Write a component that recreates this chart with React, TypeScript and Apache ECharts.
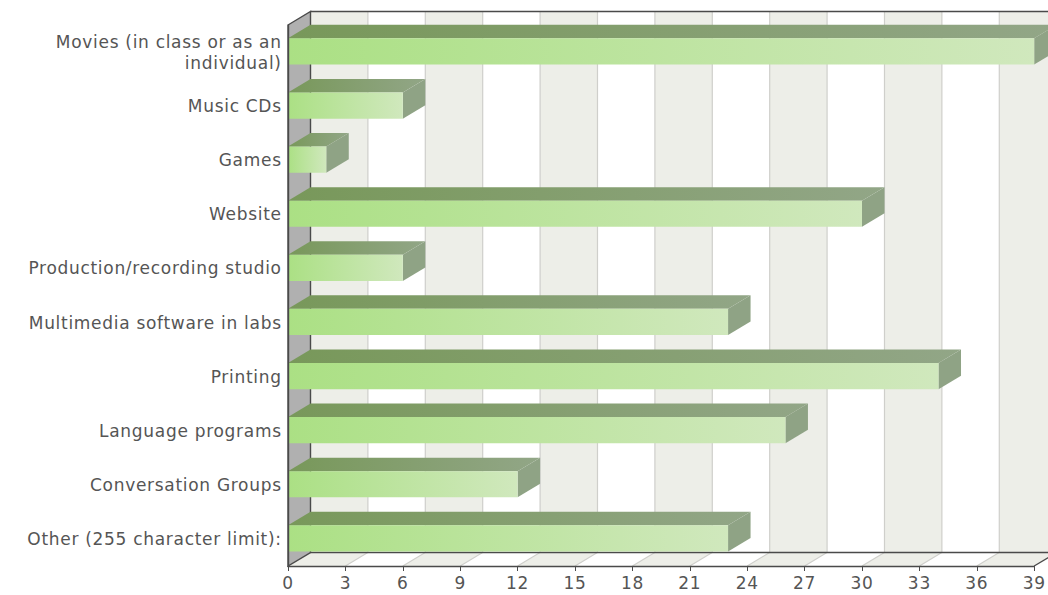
import React, { useEffect, useRef } from "react";
import * as echarts from "echarts";

const categories = [
  "Movies (in class or as an\nindividual)",
  "Music CDs",
  "Games",
  "Website",
  "Production/recording studio",
  "Multimedia software in labs",
  "Printing",
  "Language programs",
  "Conversation Groups",
  "Other (255 character limit):",
];
const values = [39, 6, 2, 30, 6, 23, 34, 26, 12, 23];
const stripeStarts = [0, 6, 12, 18, 24, 30, 36];
const gridTicks = [3, 6, 9, 12, 15, 18, 21, 24, 27, 30, 33, 36];
const AXIS_MAX = 39;
const AXIS_STEP = 3;

const DX = 22.5;
const DY = 13.5;
const BAR_RATIO = 0.485;
const BAR_SHIFT = -0.6;

const DARK = "#4a4a4a";
const TEXT = "#555555";
const STRIPE = "#edeee8";
const GRIDLINE = "#cfcfcb";
const WALL = "#b0b0b0";

function App() {
  const ref = useRef<HTMLDivElement>(null);
  useEffect(() => {
    const chart = echarts.init(ref.current!, undefined, { renderer: "svg" });

    const stripeItem = (params: any, api: any) => {
      const cs = params.coordSys;
      const top = cs.y;
      const bottom = cs.y + cs.height;
      const x0 = api.coord([api.value(0), 0])[0];
      const x1 = api.coord([api.value(0) + AXIS_STEP, 0])[0];
      return {
        type: "group",
        children: [
          { type: "polygon", shape: { points: [[x0 + DX, top - DY], [x1 + DX, top - DY], [x1 + DX, bottom - DY], [x0 + DX, bottom - DY]] }, style: { fill: STRIPE } },
          { type: "polygon", shape: { points: [[x0, bottom], [x1, bottom], [x1 + DX, bottom - DY], [x0 + DX, bottom - DY]] }, style: { fill: STRIPE } },
        ],
      };
    };

    const gridItem = (params: any, api: any) => {
      const cs = params.coordSys;
      const top = cs.y;
      const bottom = cs.y + cs.height;
      const x = api.coord([api.value(0), 0])[0];
      return {
        type: "polyline",
        shape: { points: [[x, bottom], [x + DX, bottom - DY], [x + DX, top - DY]] },
        style: { fill: "none", stroke: GRIDLINE, lineWidth: 1.2 },
      };
    };

    const frameItem = (params: any, api: any) => {
      const cs = params.coordSys;
      const top = cs.y;
      const bottom = cs.y + cs.height;
      const x0 = cs.x;
      const x1 = cs.x + cs.width;
      const line = { fill: "none", stroke: DARK, lineWidth: 1.4 };
      return {
        type: "group",
        children: [
          { type: "polygon", shape: { points: [[x0, top], [x0 + DX, top - DY], [x0 + DX, bottom - DY], [x0, bottom]] }, style: { fill: WALL, stroke: DARK, lineWidth: 1.4 } },
          { type: "polyline", shape: { points: [[x0 + DX, top - DY], [x1 + DX + 20, top - DY]] }, style: line },
          { type: "polyline", shape: { points: [[x0 + DX, bottom - DY], [x1 + DX, bottom - DY]] }, style: line },
          { type: "polyline", shape: { points: [[x1, bottom], [x1 + DX, bottom - DY]] }, style: line },
        ],
      };
    };

    const barItem = (params: any, api: any) => {
      const v = api.value(0);
      const c = api.coord([v, api.value(1)]);
      const x0 = api.coord([0, api.value(1)])[0];
      const x1 = c[0];
      const h = api.size([0, 1])[1] * BAR_RATIO;
      const y0 = c[1] - h / 2 + BAR_SHIFT;
      const y1 = y0 + h;
      return {
        type: "group",
        children: [
          {
            type: "polygon",
            shape: { points: [[x0, y0], [x1, y0], [x1 + DX, y0 - DY], [x0 + DX, y0 - DY]] },
            style: { fill: new echarts.graphic.LinearGradient(0, 0, 1, 0, [{ offset: 0, color: "#78985a" }, { offset: 1, color: "#92a687" }]) },
          },
          {
            type: "polygon",
            shape: { points: [[x1, y0], [x1 + DX, y0 - DY], [x1 + DX, y1 - DY], [x1, y1]] },
            style: { fill: "#8fa385" },
          },
          {
            type: "rect",
            shape: { x: x0, y: y0, width: x1 - x0, height: y1 - y0 },
            style: { fill: new echarts.graphic.LinearGradient(0, 0, 1, 0, [{ offset: 0, color: "#abe084" }, { offset: 1, color: "#d0e8bd" }]) },
          },
        ],
      };
    };

    chart.setOption({
      animation: false,
      backgroundColor: "#ffffff",
      textStyle: { fontFamily: "DejaVu Sans" },
      grid: { left: 288, right: 13, top: 25, bottom: 29, containLabel: false },
      xAxis: {
        type: "value",
        min: 0,
        max: AXIS_MAX,
        interval: AXIS_STEP,
        z: 10,
        splitLine: { show: false },
        axisLine: { show: true, lineStyle: { color: DARK, width: 1.4 } },
        axisTick: { show: true, length: 5, lineStyle: { color: DARK, width: 1 } },
        axisLabel: { color: TEXT, fontSize: 17, fontFamily: "DejaVu Sans", margin: 8, hideOverlap: false, showMaxLabel: true, showMinLabel: true },
      },
      yAxis: {
        type: "category",
        inverse: true,
        data: categories,
        z: 10,
        axisLine: { show: true, lineStyle: { color: DARK, width: 1.4 } },
        axisTick: { show: false },
        splitLine: { show: false },
        axisLabel: { color: TEXT, fontSize: 17, fontFamily: "DejaVu Sans", margin: 6.3, lineHeight: 21, align: "right", interval: 0 },
      },
      series: [
        { type: "custom", silent: true, z: 1, renderItem: stripeItem, data: stripeStarts.map((v) => [v, 0]), encode: { x: 0, y: 1 } },
        { type: "custom", silent: true, z: 2, renderItem: gridItem, data: gridTicks.map((v) => [v, 0]), encode: { x: 0, y: 1 } },
        { type: "custom", silent: true, z: 3, renderItem: frameItem, data: [[0, 0]], encode: { x: 0, y: 1 } },
        { type: "custom", silent: true, z: 4, renderItem: barItem, data: values.map((v, i) => [v, i]), encode: { x: 0, y: 1 } },
      ],
    });
    return () => chart.dispose();
  }, []);
  return (
    <>
      <style>{`.bar3d text { letter-spacing: 0.7px; }`}</style>
      <div ref={ref} className="bar3d" style={{ position: "absolute", left: 0, top: 0, width: 1048, height: 595 }} />
    </>
  );
}

export default App;
